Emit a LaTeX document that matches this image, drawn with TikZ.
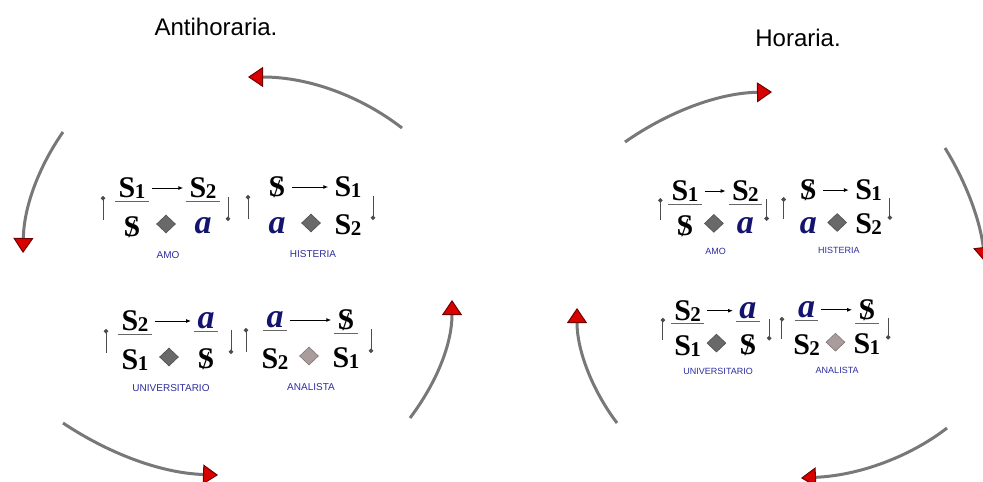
\documentclass[tikz,border=0pt]{standalone}
\usepackage{fontspec}
\setmainfont{Liberation Serif}
\newfontfamily\etiq{Liberation Sans}
\usepackage{xcolor}
\usetikzlibrary{arrows.meta, shapes.geometric}
\definecolor{azul}{RGB}{20,20,110}
\definecolor{rotulo}{RGB}{45,45,160}
\definecolor{rombo}{RGB}{105,105,105}
\definecolor{romboclaro}{RGB}{170,156,156}
\definecolor{giro}{RGB}{120,120,120}
\newcommand{\Su}[1]{S\kern-0.3pt\raisebox{-0.5pt}{\fontsize{10.5}{10.5}\selectfont #1}}
\newcommand{\Sb}{\ooalign{S\cr\hidewidth\raisebox{-0.4pt}{\fontsize{13}{13}\selectfont\mdseries /}\hidewidth\cr}}
\newcommand{\obj}{{\fontsize{17}{17}\selectfont\color{azul}\textit{a}}}

\begin{document}
\begin{tikzpicture}[
                  x=0.5pt, y=-0.5pt,
                  term/.style={font=\fontsize{15}{15}\selectfont\bfseries, inner sep=0pt},
                  romb/.style={diamond, draw=#1!75!black, fill=#1, line width=0.3pt,
                              inner sep=0pt, minimum width=9.5pt, minimum height=9pt},
                  titulo/.style={font=\etiq\fontsize{12}{12}\selectfont},
                  tic/.style={line width=0.45pt, draw=black!70, -{Circle[length=2.2pt]}},
                  enlace/.style={line width=0.5pt, -{Latex[length=2.5pt,width=2pt]},
                              shorten <=3pt, shorten >=3pt},
                  barra/.style={line width=0.5pt, draw=black!60},
                  giro/.style={line width=1.5pt, draw=giro,
                              -{Triangle[length=7.5pt,width=10pt,line width=0.5pt,
                                          color=red!45!black,fill=red!85!black]}},
            ]
            \useasboundingbox (0,0) rectangle (983,481);

            % ---- Titles ----
            \node[titulo] (tituloL) at (216,27) {Antihoraria.};
            \node[titulo] (tituloR) at (798,38) {Horaria.};

            % ---- The four discourses, on each side ----
            \foreach \lado/\ox/\oy/\sx/\sy/\fl in {L/132/188/1/1/5, R/685/191/0.85/0.9/4.5}{
                  \begin{scope}[shift={(\ox,\oy)}, xscale=\sx, yscale=\sy]
                        \foreach \n/\x/\y/\ts/\td/\bi/\bd/\rc/\lab in {
                                    amo/0/0/{\Su1}/{\Su2}/{\Sb}/{\obj}/rombo/AMO,
                                    his/145/-1/{\Sb}/{\Su1}/{\obj}/{\Su2}/rombo/HISTERIA,
                                    uni/3/133/{\Su2}/{\obj}/{\Su1}/{\Sb}/rombo/UNIVERSITARIO,
                                    ana/143/132/{\obj}/{\Sb}/{\Su2}/{\Su1}/romboclaro/ANALISTA}{
                              \begin{scope}[shift={(\x,\y)}]
                                    \node[term] (\lado-\n-ts) at (0,0)  {\ts};
                                    \node[term] (\lado-\n-td) at (71,0) {\td};
                                    \node[term] (\lado-\n-bi) at (0,39) {\bi};
                                    \node[romb=\rc] (\lado-\n-r) at (34,36) {};
                                    \node[term] (\lado-\n-bd) at (71,38) {\bd};
                                    \node[font=\etiq\fontsize{\fl}{\fl}\selectfont, text=rotulo]
                                    (\lado-\n-lab) at (36,67) {\lab};
                                    \draw[enlace] (\lado-\n-ts.east) -- (\lado-\n-ts.east -| \lado-\n-td.west);
                                    \draw[tic] (-29,32) -- (-29,8);
                                    \draw[tic] (96,9) -- (96,33);
                              \end{scope}
                        }
                  \end{scope}
                  % fraction lines (none in the hysteric's discourse)
                  \foreach \n in {amo, uni, ana}{
                        \foreach \t in {ts, td}{
                              \draw[barra] ([xshift=-1.5pt,yshift=-1.2pt]\lado-\n-\t.south west)
                              -- ([xshift=1.5pt,yshift=-1.2pt]\lado-\n-\t.south east);
                        }
                  }
            }

            % ---- Rotation arrows (LEFT, counter-clockwise) ----
            \draw[giro] (402,128) .. controls (362,97) and (310,77) .. (248,77);
            \draw[giro] (63,132) .. controls (40,165) and (24,205) .. (23,253);
            \draw[giro] (63,423) .. controls (108,453) and (160,473) .. (218,475);
            \draw[giro] (410,418) .. controls (440,378) and (452,340) .. (452,300);

            % ---- Rotation arrows (RIGHT, clockwise) ----
            \draw[giro] (625,142) .. controls (668,112) and (718,93) .. (772,92);
            \draw[giro] (945,148) .. controls (966,182) and (980,220) .. (985,262);
            \draw[giro] (947,428) .. controls (915,453) and (865,475) .. (801,478);
            \draw[giro] (617,423) .. controls (592,390) and (577,350) .. (577,308);

      \end{tikzpicture}
\end{document}
